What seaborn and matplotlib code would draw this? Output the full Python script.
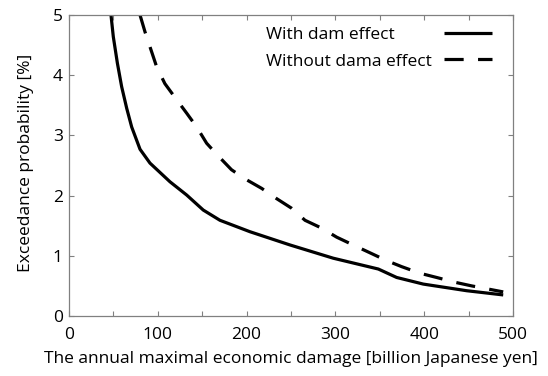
import matplotlib
matplotlib.use("Agg")
import matplotlib.pyplot as plt
from matplotlib.ticker import MultipleLocator
import seaborn as sns
import pandas as pd

# Exceedance curve with dam operation
with_dam_x = [47.3, 49.9, 54.5, 59.3, 65.0, 70.6, 80.0, 91.2, 113.7, 132.5, 151.2,
              170.0, 203.8, 248.9, 297.6, 348.4, 369.0, 399.0, 447.8, 489.0]
with_dam_y = [5.00, 4.64, 4.20, 3.81, 3.45, 3.14, 2.77, 2.54, 2.23, 2.01, 1.76,
              1.59, 1.40, 1.18, 0.96, 0.78, 0.64, 0.53, 0.42, 0.35]

# Exceedance curve without dam operation
no_dam_x = [80.0, 85.6, 98.7, 108.0, 119.4, 132.5, 143.8, 155.0, 168.0, 183.0, 198.0,
            217.0, 233.8, 250.7, 265.8, 284.5, 301.4, 320.0, 338.9, 357.7, 374.6,
            395.3, 414.0, 434.7, 453.5, 489.0]
no_dam_y = [5.00, 4.72, 4.14, 3.86, 3.63, 3.37, 3.14, 2.87, 2.66, 2.43, 2.28,
            2.12, 1.95, 1.79, 1.59, 1.46, 1.31, 1.18, 1.05, 0.92, 0.82,
            0.71, 0.64, 0.56, 0.50, 0.40]

series_names = ["With dam effect", "Without dama effect"]

df = pd.concat([
    pd.DataFrame({"damage": with_dam_x, "prob": with_dam_y, "case": series_names[0]}),
    pd.DataFrame({"damage": no_dam_x, "prob": no_dam_y, "case": series_names[1]}),
], ignore_index=True)

sns.set_style("ticks")
plt.rcParams["font.family"] = ["Open Sans", "DejaVu Sans"]
plt.rcParams["text.color"] = "black"
plt.rcParams["axes.labelcolor"] = "black"
plt.rcParams["xtick.color"] = "black"
plt.rcParams["ytick.color"] = "black"
plt.rcParams["lines.solid_capstyle"] = "butt"
plt.rcParams["lines.dash_capstyle"] = "butt"

FS = 12.5

fig = plt.figure(figsize=(5.48, 3.76), dpi=100)
ax = fig.add_axes([0.1259, 0.1596, 0.8102, 0.8004])

sns.lineplot(
    data=df, x="damage", y="prob", style="case", hue="case",
    palette={series_names[0]: "black", series_names[1]: "black"},
    dashes={series_names[0]: "", series_names[1]: (6, 4.5)},
    linewidth=2.3, sort=False, estimator=None, ax=ax,
)

ax.set_xlim(0, 500)
ax.set_ylim(0, 5)
ax.xaxis.set_major_locator(MultipleLocator(100))
ax.xaxis.set_minor_locator(MultipleLocator(50))
ax.yaxis.set_major_locator(MultipleLocator(1))

ax.tick_params(which="both", direction="in", top=True, right=True,
               length=3.5, width=0.8, color="#808080", labelsize=FS,
               labelcolor="black")
ax.tick_params(axis="x", pad=8)
ax.tick_params(axis="y", pad=4.5)
for s in ax.spines.values():
    s.set_color("#808080")
    s.set_linewidth(0.9)

ax.set_xlabel("The annual maximal economic damage [billion Japanese yen]", fontsize=FS, labelpad=5.5)
ax.set_ylabel("Exceedance probability [%]", fontsize=FS)
ax.yaxis.set_label_coords(-0.079, 0.51)

leg = ax.legend(loc="upper right", bbox_to_anchor=(0.9527, 0.962), frameon=False,
                markerfirst=False, fontsize=FS, handlelength=2.75, handletextpad=0.69,
                labelspacing=0.62, borderaxespad=0, borderpad=0, title=None)

# Key labels flush left, samples flush right (text widths equalised via row spacing)
fig.canvas.draw()
renderer = fig.canvas.get_renderer()
rows = leg._legend_handle_box.get_children()[0].get_children()
widths = [t.get_window_extent(renderer).width for t in leg.get_texts()]
wmax = max(widths)
for row, w in zip(rows, widths):
    row.sep = row.sep + (wmax - w) * 72.0 / fig.dpi

fig.savefig("out.png", dpi=100)
